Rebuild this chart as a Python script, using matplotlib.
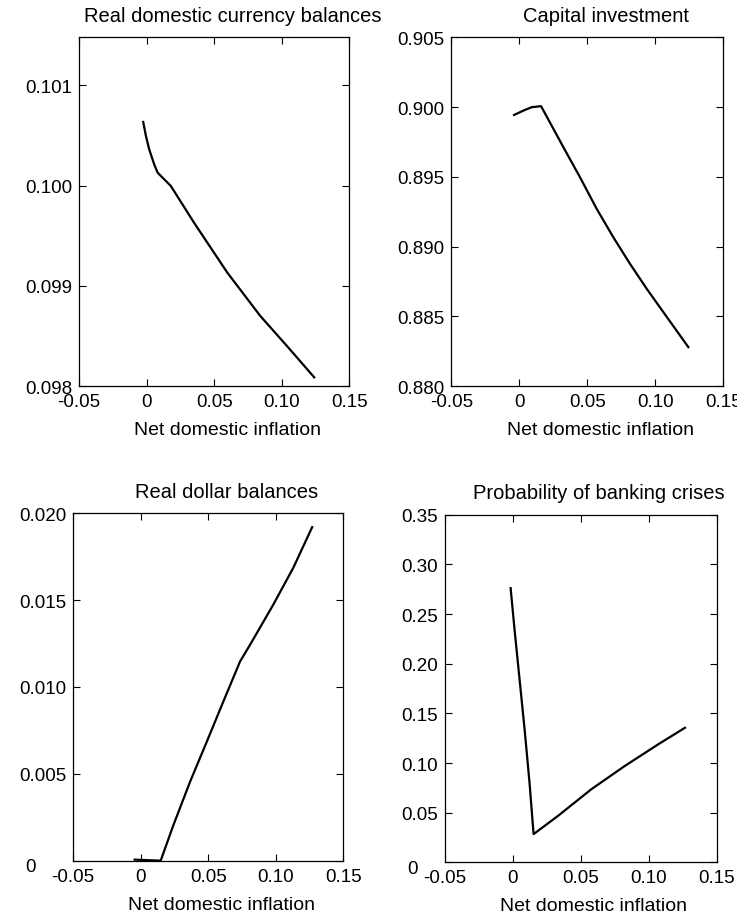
import matplotlib.pyplot as plt
import matplotlib.transforms as mtransforms
import numpy as np

plt.rcParams['font.family'] = ['Liberation Sans', 'DejaVu Sans']

# Net domestic inflation (x) and responses
x_cur = [-0.0025, -0.0005, 0.0019, 0.0056, 0.0081, 0.0105, 0.0179, 0.0350, 0.0596, 0.0840, 0.1037, 0.1240]
y_cur = [0.100635, 0.100496, 0.100363, 0.100213, 0.100131, 0.100097, 0.099997, 0.099632,
         0.099134, 0.098701, 0.098402, 0.098087]

x_cap = [-0.0039, 0.0029, 0.0091, 0.0160, 0.0324, 0.0446, 0.0569, 0.0691, 0.0814, 0.0937, 0.1059, 0.1243]
y_cap = [0.89943, 0.89974, 0.89999, 0.90006, 0.89712, 0.89497, 0.89270, 0.89067, 0.88876,
         0.88697, 0.88530, 0.88279]

x_dol = [-0.0045, 0.0148, 0.0241, 0.0365, 0.0489, 0.0612, 0.0736, 0.0810, 0.0982, 0.1130, 0.1270]
y_dol = [0.00006, 0.0, 0.00202, 0.00453, 0.00684, 0.00916, 0.01147, 0.01243, 0.01474, 0.01686, 0.01920]

x_crs = [-0.0017, 0.0012, 0.0049, 0.0086, 0.0122, 0.0152, 0.0332, 0.0577, 0.0823, 0.1069, 0.1266]
y_crs = [0.2761, 0.2342, 0.184, 0.1338, 0.0803, 0.0284, 0.0468, 0.0736, 0.097, 0.1188, 0.1355]

titles = ['Real domestic currency balances', 'Capital investment',
          'Real dollar balances', 'Probability of banking crises']

xticks = [-0.05, 0, 0.05, 0.10, 0.15]
xticklabels = ['-0.05', '0', '0.05', '0.10', '0.15']

yticks = [[0.098, 0.099, 0.100, 0.101],
          [0.880, 0.885, 0.890, 0.895, 0.900, 0.905],
          [0, 0.005, 0.010, 0.015, 0.020],
          [0, 0.05, 0.10, 0.15, 0.20, 0.25, 0.30, 0.35]]
yticklabels = [['0.098', '0.099', '0.100', '0.101'],
               ['0.880', '0.885', '0.890', '0.895', '0.900', '0.905'],
               ['0', '0.005', '0.010', '0.015', '0.020'],
               ['0', '0.05', '0.10', '0.15', '0.20', '0.25', '0.30', '0.35']]
ylims = [(0.098, 0.10148), (0.880, 0.905), (0, 0.020), (0, 0.35)]

xs = [x_cur, x_cap, x_dol, x_crs]
ys = [y_cur, y_cap, y_dol, y_crs]

fig = plt.figure(figsize=(7.37, 9.2), dpi=100)
boxes = [[0.1072, 0.5793, 0.3668, 0.3791],
         [0.6124, 0.5793, 0.3690, 0.3791],
         [0.0993, 0.0634, 0.3664, 0.3776],
         [0.6038, 0.0616, 0.3687, 0.3778]]
# the lone "0" on the bottom panels sits further left and a bit low
zero_shift = [None, None, (-0.30, -0.04), (-0.20, -0.04)]

for i in range(4):
    ax = fig.add_axes(boxes[i])
    ax.plot(xs[i], ys[i], color='black', lw=1.6)
    ax.set_xlim(-0.05, 0.15)
    ax.set_ylim(*ylims[i])
    ax.set_xticks(xticks)
    ax.set_xticklabels(xticklabels)
    ax.set_yticks(yticks[i])
    ax.set_yticklabels(yticklabels[i])
    ax.tick_params(direction='in', top=True, right=True, length=5, width=0.8,
                   labelsize=13.5, pad=5)
    for s in ax.spines.values():
        s.set_linewidth(0.9)
    ax.set_title(titles[i], fontsize=14.5, pad=12, x=0.567)
    ax.set_xlabel('Net domestic inflation', fontsize=14, labelpad=8)
    ax.xaxis.label.set_x(0.548)
    if zero_shift[i] is not None:
        lab = ax.get_yticklabels()[0]
        dx, dy = zero_shift[i]
        lab.set_transform(lab.get_transform() +
                          mtransforms.ScaledTranslation(dx, dy, fig.dpi_scale_trans))

plt.savefig('out.png', dpi=100)
